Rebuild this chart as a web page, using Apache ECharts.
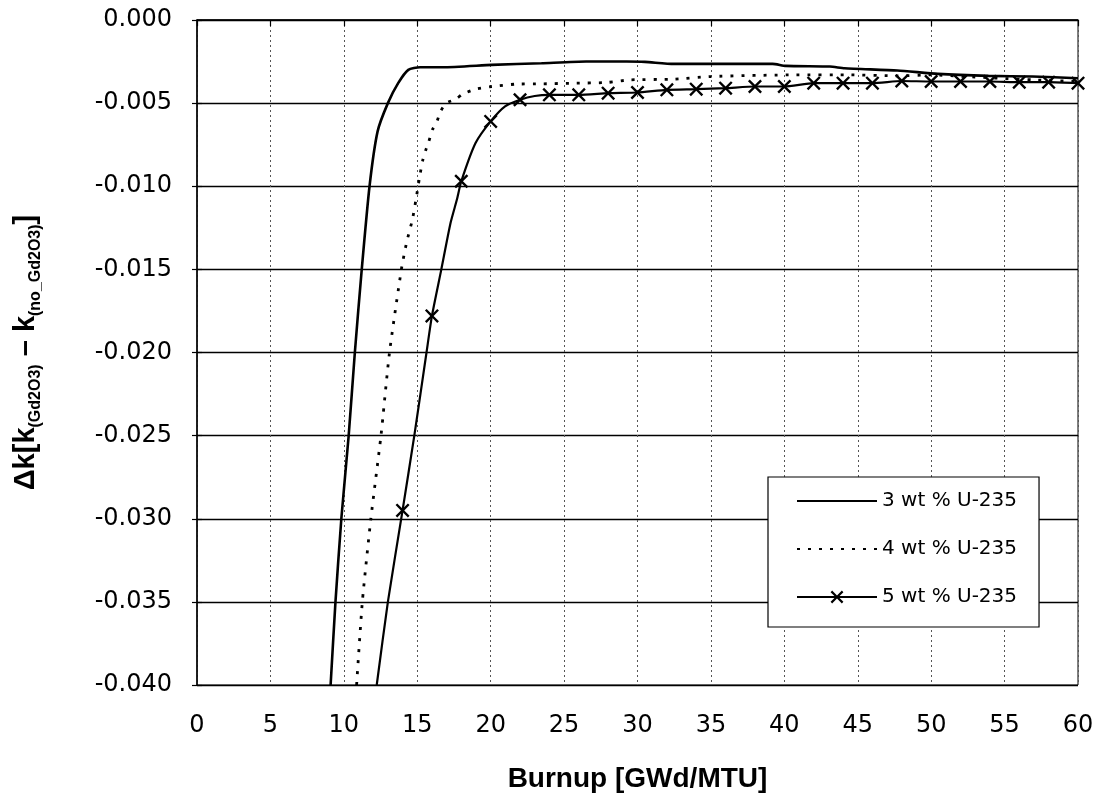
<!DOCTYPE html>
<html><head><meta charset="utf-8">
<script src="https://cdn.jsdelivr.net/npm/echarts@6/dist/echarts.min.js"></script>
<style>html,body{margin:0;padding:0;background:#fff}#c{width:1100px;height:803px}</style>
</head><body><div id="c"></div><script>
// ---- data (burnup GWd/MTU, delta k) ----
const seriesNames = ['3 wt % U-235', '4 wt % U-235', '5 wt % U-235'];
const xTickValues = [0,5,10,15,20,25,30,35,40,45,50,55,60];
const yTickValues = [0,-0.005,-0.010,-0.015,-0.020,-0.025,-0.030,-0.035,-0.040];

const s3wt = [[9.1,-0.040],[9.43,-0.035],[9.83,-0.030],[10.33,-0.025],[10.75,-0.020],[11.22,-0.015],
  [11.75,-0.010],[12.3,-0.0067],[13.0,-0.0050],[13.7,-0.0038],[14.39,-0.0030],[15.19,-0.00284],
  [16.75,-0.00284],[20.08,-0.0027],[23.46,-0.0026],[26.5,-0.0025],[29.26,-0.0025],[30.5,-0.00252],
  [32.47,-0.00264],[33.85,-0.00264],[39.2,-0.00264],[40.1,-0.00276],[43.1,-0.0028],[44.1,-0.0029],
  [47.7,-0.00304],[50.46,-0.00324],[53.9,-0.00336],[56.9,-0.0034],[60,-0.0035]];

const s4wt = [[10.87,-0.040],[11.26,-0.035],[11.84,-0.030],[12.53,-0.025],[13.11,-0.020],[13.92,-0.015],
  [14.27,-0.0134],[14.67,-0.0120],[14.92,-0.01076],[15.15,-0.0095],[15.37,-0.00845],[15.57,-0.00785],
  [15.79,-0.0073],[16.03,-0.0066],[16.3,-0.0062],[16.59,-0.0055],[16.97,-0.0050],[17.63,-0.00476],
  [18.08,-0.00446],[18.97,-0.00416],[20.08,-0.0040],[21.66,-0.00386],[23.46,-0.00384],[25.7,-0.0038],
  [27.9,-0.00376],[29.5,-0.0036],[32.47,-0.00356],[35,-0.0034],[40.8,-0.0033],[44.3,-0.0033],
  [47.7,-0.00336],[50,-0.0033],[52.3,-0.0034],[56.9,-0.0036],[60,-0.0037]];

// 5 wt%: curve points between markers, and the marked points
const s5wtCurve = [[12.24,-0.040],[13.0,-0.035],[14.8,-0.025],[15.63,-0.020],[16.64,-0.015],
  [17.27,-0.0122],[17.7,-0.0108],[18.97,-0.0074],[20.98,-0.0052],[23,-0.00457]];
const s5wtMarks = [[14,-0.0295],[16,-0.0178],[18,-0.0097],[20,-0.0061],[22,-0.0048],[24,-0.0045],
  [26,-0.0045],[28,-0.0044],[30,-0.00436],[32,-0.0042],[34,-0.00416],[36,-0.0041],[38,-0.0040],
  [40,-0.0040],[42,-0.0038],[44,-0.0038],[46,-0.0038],[48,-0.00367],[50,-0.0037],[52,-0.0037],
  [54,-0.0037],[56,-0.00374],[58,-0.00374],[60,-0.0038]];

// ---- build ----
const FONT = 'Arial, "Liberation Sans", Helvetica, sans-serif';
const TICKFONT = '"DejaVu Sans", Arial, sans-serif';
const crossPath = 'path://M0,1.2L1.2,0L5,3.8L8.8,0L10,1.2L6.2,5L10,8.8L8.8,10L5,6.2L1.2,10L0,8.8L3.8,5Z';
const s5wtData = s5wtCurve.map(p => ({value: p, symbol: 'none'}))
  .concat(s5wtMarks.map(p => ({value: p})))
  .sort((a, b) => a.value[0] - b.value[0]);

const chart = echarts.init(document.getElementById('c'), null, {renderer: 'canvas'});
chart.setOption({
  backgroundColor: '#fff',
  animation: false,
  textStyle: {fontFamily: FONT, color: '#000'},
  grid: {left: 197, right: 22, top: 20, bottom: 118, show: true, borderColor: '#000', borderWidth: 1, backgroundColor: 'transparent'},
  legend: {
    orient: 'vertical', left: 768, top: 477,
    backgroundColor: '#fff', borderColor: '#000', borderWidth: 1.2, borderRadius: 0,
    padding: [14, 22, 20, 28], itemGap: 28, itemWidth: 80, itemHeight: 16,
    textStyle: {fontFamily: TICKFONT, fontSize: 20, color: '#000'},
    data: [
      {name: seriesNames[0], itemStyle: {opacity: 0}},
      {name: seriesNames[1], itemStyle: {opacity: 0}},
      {name: seriesNames[2]}
    ]
  },
  xAxis: {
    type: 'value', min: xTickValues[0], max: xTickValues[xTickValues.length - 1], interval: 5,
    axisLine: {lineStyle: {color: '#000', width: 1.5}},
    axisTick: {length: 6, lineStyle: {color: '#000', width: 1.2}},
    axisLabel: {color: '#000', fontSize: 24, margin: 29, fontFamily: TICKFONT},
    splitLine: {show: true, lineStyle: {color: '#555', type: [2, 3], width: 1}},
    name: 'Burnup [GWd/MTU]', nameLocation: 'middle', nameGap: 80,
    nameTextStyle: {fontSize: 28, fontWeight: 'bold', color: '#000', fontFamily: FONT}
  },
  yAxis: [{
    type: 'value', min: yTickValues[yTickValues.length - 1], max: yTickValues[0], interval: 0.005,
    axisLine: {show: true, lineStyle: {color: '#000', width: 1.5}},
    axisTick: {show: true, length: 5, lineStyle: {color: '#000', width: 1.2}},
    axisLabel: {color: '#000', fontSize: 24, margin: 25, fontFamily: TICKFONT,
      formatter: v => (Math.abs(v) < 1e-9 ? 0 : v).toFixed(3)},
    splitLine: {show: true, lineStyle: {color: '#000', width: 1.3}},
    name: '{a|Δk[k}{s|(Gd2O3)}{a| – k}{s|(no_Gd2O3)}{a|]}',
    nameLocation: 'middle', nameRotate: 90, nameGap: 153,
    nameTextStyle: {
      rich: {
        a: {fontSize: 29, fontWeight: 'bold', lineHeight: 36, fontFamily: FONT, color: '#000'},
        s: {fontSize: 16, fontWeight: 'bold', lineHeight: 16, verticalAlign: 'bottom', fontFamily: FONT, color: '#000'}
      }
    }
  }, {
    type: 'value', min: yTickValues[yTickValues.length - 1], max: yTickValues[0], interval: 0.005,
    position: 'left', axisLine: {show: false}, axisLabel: {show: false}, splitLine: {show: false},
    axisTick: {show: true, inside: true, length: 5, lineStyle: {color: '#000', width: 1.2}}
  }],
  series: [{
    name: seriesNames[0], type: 'line', data: s3wt, symbol: 'none', smooth: 0.2,
    lineStyle: {color: '#000', width: 2.6}, itemStyle: {color: '#000'}, z: 3
  }, {
    name: seriesNames[1], type: 'line', data: s4wt, symbol: 'none', smooth: 0.2,
    lineStyle: {color: '#000', width: 2.8, type: [3, 8]}, itemStyle: {color: '#000'}, z: 3
  }, {
    name: seriesNames[2], type: 'line', data: s5wtData, symbol: crossPath, symbolSize: 14,
    showAllSymbol: true, smooth: 0.2,
    lineStyle: {color: '#000', width: 2.2}, itemStyle: {color: '#000', borderWidth: 0}, z: 3
  }]
});
</script></body></html>
